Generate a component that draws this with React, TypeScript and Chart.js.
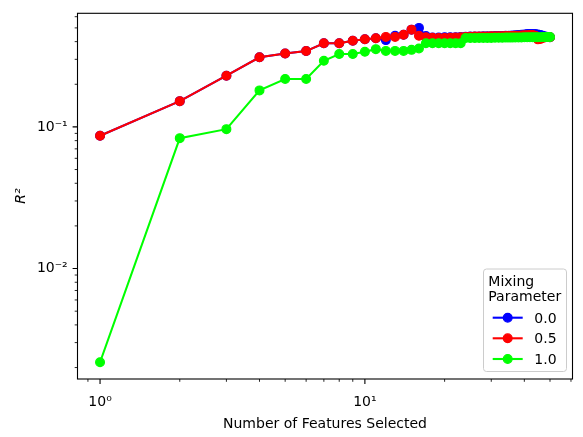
import React, { useEffect, useRef } from "react";
import { Chart, registerables } from "chart.js";

Chart.register(...registerables);

// ---------- data ----------
const featureCounts = [
  1, 2, 3, 4, 5, 6, 7, 8, 9, 10,
  11, 12, 13, 14, 15, 16, 17, 18, 19, 20,
  21, 22, 23, 24, 25, 26, 27, 28, 29, 30,
  31, 32, 33, 34, 35, 36, 37, 38, 39, 40,
  41, 42, 43, 44, 45, 46, 47, 48, 49, 50,
];

const r2Mix00 = [
  0.0865, 0.152, 0.230, 0.310, 0.330, 0.343, 0.390, 0.390, 0.406, 0.416,
  0.423, 0.410, 0.440, 0.447, 0.486, 0.500, 0.438, 0.428, 0.428, 0.430,
  0.430, 0.430, 0.432, 0.433, 0.434, 0.434, 0.435, 0.436, 0.436, 0.437,
  0.438, 0.438, 0.439, 0.440, 0.441, 0.442, 0.444, 0.446, 0.448, 0.450,
  0.452, 0.453, 0.453, 0.452, 0.450, 0.446, 0.440, 0.435, 0.432, 0.430,
];

const r2Mix05 = [
  0.0865, 0.152, 0.230, 0.310, 0.330, 0.343, 0.390, 0.390, 0.406, 0.416,
  0.423, 0.432, 0.432, 0.447, 0.486, 0.440, 0.430, 0.426, 0.425, 0.425,
  0.426, 0.427, 0.429, 0.432, 0.433, 0.434, 0.434, 0.435, 0.435, 0.436,
  0.436, 0.437, 0.437, 0.438, 0.438, 0.439, 0.440, 0.441, 0.442, 0.443,
  0.444, 0.445, 0.446, 0.440, 0.415, 0.418, 0.425, 0.430, 0.432, 0.430,
];

const r2Mix10 = [
  0.00218, 0.0833, 0.0964, 0.181, 0.218, 0.218, 0.293, 0.327, 0.327, 0.339,
  0.354, 0.344, 0.344, 0.344, 0.350, 0.358, 0.390, 0.390, 0.390, 0.390,
  0.390, 0.390, 0.390, 0.424, 0.424, 0.424, 0.425, 0.425, 0.425, 0.425,
  0.426, 0.426, 0.426, 0.427, 0.427, 0.427, 0.428, 0.428, 0.428, 0.429,
  0.429, 0.429, 0.430, 0.430, 0.430, 0.430, 0.431, 0.431, 0.431, 0.431,
];

const seriesLabels = ["0.0", "0.5", "1.0"];
const seriesColors = ["#0000ff", "#ff0000", "#00ff00"];
const legendTitle = ["Mixing", "Parameter"];

const xMajorTicks = [1, 10];
const xMajorLabels = ["10\u2070", "10\u00b9"];
const xMinorTicks = [0.9, 2, 3, 4, 5, 6, 7, 8, 9, 20, 30, 40, 50, 60];

const yMajorTicks = [0.01, 0.1];
const yMajorLabels = ["10\u207b\u00b2", "10\u207b\u00b9"];
const yMinorTicks = [
  0.002, 0.003, 0.004, 0.005, 0.006, 0.007, 0.008, 0.009,
  0.02, 0.03, 0.04, 0.05, 0.06, 0.07, 0.08, 0.09,
  0.2, 0.3, 0.4, 0.5, 0.6,
];

const xTitle = "Number of Features Selected";
const yTitle = "R\u00b2";

const FONT = "'DejaVu Sans', sans-serif";

function labelFor(value: number, majors: number[], labels: string[]) {
  for (let i = 0; i < majors.length; i++) {
    if (Math.abs(value - majors[i]) < majors[i] * 1e-6) return labels[i];
  }
  return "";
}

const frameAndTicks = {
  id: "frameAndTicks",
  afterDatasetsDraw(chart: any) {
    const { ctx, chartArea } = chart;
    const { left, right, top, bottom } = chartArea;
    const xs = chart.scales.x;
    const ys = chart.scales.y;
    ctx.save();
    ctx.strokeStyle = "#000";
    // ticks
    const drawX = (vals: number[], len: number, w: number) => {
      ctx.lineWidth = w;
      ctx.beginPath();
      vals.forEach((v) => {
        const p = xs.getPixelForValue(v);
        if (p < left - 0.5 || p > right + 0.5) return;
        ctx.moveTo(p, bottom);
        ctx.lineTo(p, bottom + len);
      });
      ctx.stroke();
    };
    const drawY = (vals: number[], len: number, w: number) => {
      ctx.lineWidth = w;
      ctx.beginPath();
      vals.forEach((v) => {
        const p = ys.getPixelForValue(v);
        if (p < top - 0.5 || p > bottom + 0.5) return;
        ctx.moveTo(left, p);
        ctx.lineTo(left - len, p);
      });
      ctx.stroke();
    };
    drawX(xMinorTicks, 2.8, 0.85);
    drawY(yMinorTicks, 2.8, 0.85);
    drawX(xMajorTicks, 4.9, 1.1);
    drawY(yMajorTicks, 4.9, 1.1);
    // frame
    ctx.lineWidth = 1.1;
    ctx.strokeRect(left, top, right - left, bottom - top);
    ctx.restore();
  },
};

const legendPlugin = {
  id: "mplLegend",
  afterDraw(chart: any) {
    const { ctx } = chart;
    ctx.save();
    const bx = 483.5, by = 269, bw = 83, bh = 102.5;
    ctx.beginPath();
    (ctx as any).roundRect(bx, by, bw, bh, 3);
    ctx.fillStyle = "rgba(255,255,255,0.8)";
    ctx.fill();
    ctx.strokeStyle = "#cccccc";
    ctx.lineWidth = 1;
    ctx.stroke();

    ctx.fillStyle = "#000";
    ctx.font = `14px ${FONT}`;
    ctx.textBaseline = "alphabetic";
    ctx.textAlign = "left";
    ctx.fillText(legendTitle[0], 488.3, 286);
    ctx.fillText(legendTitle[1], 488.3, 300.7);

    const rowY = [317.7, 338.3, 359];
    seriesLabels.forEach((lab, i) => {
      const y = rowY[i];
      ctx.strokeStyle = seriesColors[i];
      ctx.lineWidth = 2.1;
      ctx.beginPath();
      ctx.moveTo(492.7, y);
      ctx.lineTo(522.7, y);
      ctx.stroke();
      ctx.beginPath();
      ctx.arc(507.7, y, 4.4, 0, Math.PI * 2);
      ctx.fillStyle = seriesColors[i];
      ctx.fill();
      ctx.lineWidth = 1.2;
      ctx.stroke();
      ctx.fillStyle = "#000";
      ctx.fillText(lab, 534.3, y + 4.8);
    });
    ctx.restore();
  },
};

export default function App() {
  const ref = useRef<HTMLCanvasElement>(null);

  useEffect(() => {
    document.body.style.margin = "0";
    Chart.defaults.font.family = FONT;
    Chart.defaults.font.size = 14;
    Chart.defaults.color = "#000";

    const seriesValues = [r2Mix00, r2Mix05, r2Mix10];
    const datasets = seriesValues.map((vals, i) => ({
      label: seriesLabels[i],
      data: featureCounts.map((x, j) => ({ x, y: vals[j] })),
      borderColor: seriesColors[i],
      backgroundColor: seriesColors[i],
      pointBackgroundColor: seriesColors[i],
      pointBorderColor: seriesColors[i],
      borderWidth: 2.1,
      pointRadius: 4.4,
      pointBorderWidth: 1.2,
      pointHoverRadius: 4.4,
      tension: 0,
      order: 2 - i,
      clip: false as any,
    }));

    const chart = new Chart(ref.current!, {
      type: "line",
      data: { datasets },
      options: {
        animation: false,
        responsive: false,
        devicePixelRatio: 1,
        layout: { padding: { top: 10.5, right: 10.5, left: 0, bottom: 0 } },
        plugins: {
          legend: { display: false },
          tooltip: { enabled: false },
        },
        scales: {
          x: {
            type: "logarithmic",
            min: 0.822,
            max: 60.8,
            afterBuildTicks: (scale: any) => {
              scale.ticks = xMajorTicks.map((v) => ({ value: v, major: true }));
            },
            afterFit: (scale: any) => {
              scale.height = 58;
            },
            grid: {
              display: true,
              drawOnChartArea: false,
              drawTicks: true,
              tickLength: 4.9,
              tickColor: "rgba(0,0,0,0)",
            },
            border: { display: false },
            ticks: {
              autoSkip: false,
              maxRotation: 0,
              padding: 10,
              color: "#000",
              font: { size: 14, family: FONT },
              callback: (v: any) => labelFor(Number(v), xMajorTicks, xMajorLabels),
            },
            title: {
              display: true,
              text: xTitle,
              color: "#000",
              font: { size: 14, family: FONT },
              padding: { top: 0, bottom: 4 },
            },
          },
          y: {
            type: "logarithmic",
            min: 0.00166,
            max: 0.634,
            afterBuildTicks: (scale: any) => {
              scale.ticks = yMajorTicks.map((v) => ({ value: v, major: true }));
            },
            afterFit: (scale: any) => {
              scale.width = 77.5;
            },
            grid: {
              display: true,
              drawOnChartArea: false,
              drawTicks: true,
              tickLength: 4.9,
              tickColor: "rgba(0,0,0,0)",
            },
            border: { display: false },
            ticks: {
              autoSkip: false,
              padding: 4.9,
              color: "#000",
              font: { size: 14, family: FONT },
              callback: (v: any) => labelFor(Number(v), yMajorTicks, yMajorLabels),
            },
            title: {
              display: true,
              text: yTitle,
              color: "#000",
              font: { size: 14, family: FONT, style: "italic" },
              padding: { top: 12.6, bottom: 0 },
            },
          },
        },
      } as any,
      plugins: [frameAndTicks, legendPlugin],
    });

    return () => chart.destroy();
  }, []);

  return (
    <div style={{ width: 583, height: 437 }}>
      <canvas ref={ref} width={583} height={437} style={{ display: "block" }} />
    </div>
  );
}
